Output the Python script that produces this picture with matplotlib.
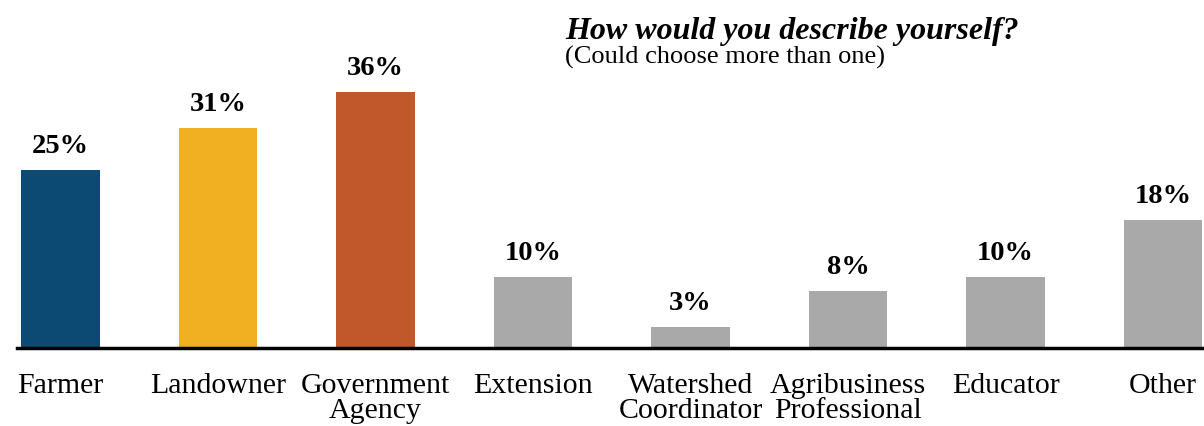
import matplotlib
matplotlib.use("Agg")
import matplotlib.pyplot as plt
import numpy as np

categories = ["Farmer", "Landowner", "Government\nAgency", "Extension",
              "Watershed\nCoordinator", "Agribusiness\nProfessional", "Educator", "Other"]
percents = [25, 31, 36, 10, 3, 8, 10, 18]
bar_colors = ["#0d4a73", "#f0b022", "#c0582b", "#a9a9a9",
              "#a9a9a9", "#a9a9a9", "#a9a9a9", "#a9a9a9"]

plt.rcParams["font.family"] = ["Liberation Serif", "DejaVu Serif"]

W, H = 1204, 426
fig = plt.figure(figsize=(W / 100, H / 100), dpi=100)
ax = fig.add_axes([17 / W, 78 / H, (W - 17) / W, 348 / H])

x = np.arange(len(categories))
ax.bar(x, percents, width=0.5, color=bar_colors, zorder=2)
ax.set_xlim(-0.276, 7.26)
ax.set_ylim(0, 49)

for xi, v in zip(x, percents):
    ax.annotate(f"{v}%", (xi, v), xytext=(0, 8), textcoords="offset points",
                ha="center", va="bottom", fontsize=20.5, fontweight="bold")

# baseline only, no frame
for side in ["top", "right", "left"]:
    ax.spines[side].set_visible(False)
ax.spines["bottom"].set_linewidth(2.5)
ax.set_yticks([])
ax.set_xticks(x, categories, fontsize=21.5)
ax.tick_params(axis="x", length=0, pad=18)
for lbl in ax.get_xticklabels():
    lbl.set_linespacing(0.95)

fig.text(565 / W, 1 - 31 / H, "How would you describe yourself?", fontsize=23,
         fontweight="bold", fontstyle="italic", ha="left", va="center")
fig.text(565 / W, 1 - 57 / H, "(Could choose more than one)", fontsize=19,
         ha="left", va="center")

fig.savefig("out.png", dpi=100)
